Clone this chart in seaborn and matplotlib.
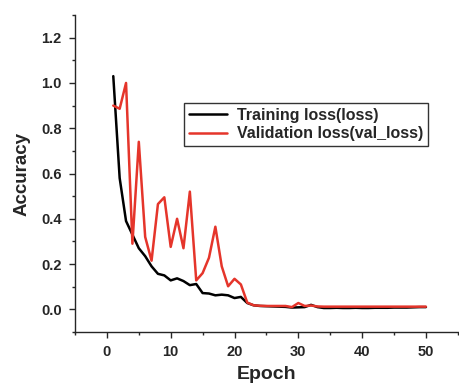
import matplotlib
matplotlib.use("Agg")
import matplotlib.pyplot as plt
import numpy as np
import pandas as pd
import seaborn as sns
from matplotlib.ticker import MultipleLocator

# DATA
epochs = list(range(1, 51))
train_loss = [1.03, 0.58, 0.39, 0.33, 0.27, 0.235, 0.19, 0.157, 0.15, 0.128,
              0.137, 0.125, 0.107, 0.112, 0.072, 0.07, 0.062, 0.065, 0.062, 0.05,
              0.055, 0.028, 0.018, 0.015, 0.014, 0.013, 0.012, 0.011, 0.008, 0.009,
              0.01, 0.02, 0.01, 0.006, 0.006, 0.007, 0.006, 0.006, 0.007, 0.006,
              0.006, 0.007, 0.007, 0.007, 0.008, 0.008, 0.008, 0.009, 0.01, 0.01]
val_loss = [0.90, 0.886, 1.0, 0.29, 0.74, 0.32, 0.215, 0.465, 0.495, 0.276,
            0.40, 0.27, 0.52, 0.128, 0.16, 0.228, 0.365, 0.19, 0.102, 0.135,
            0.11, 0.03, 0.018, 0.016, 0.015, 0.015, 0.015, 0.015, 0.01, 0.028,
            0.015, 0.017, 0.013, 0.012, 0.012, 0.012, 0.012, 0.012, 0.012, 0.012,
            0.012, 0.012, 0.012, 0.012, 0.012, 0.012, 0.012, 0.012, 0.012, 0.012]
series_names = ["Training loss(loss)", "Validation loss(val_loss)"]
series_colors = ["#000000", "#e5352b"]

df = pd.DataFrame({
    "Epoch": epochs * 2,
    "Loss": train_loss + val_loss,
    "Series": [series_names[0]] * len(epochs) + [series_names[1]] * len(epochs),
})

# STYLE
sns.set_style("ticks")
plt.rcParams["font.family"] = ["Liberation Sans", "DejaVu Sans"]
plt.rcParams["font.weight"] = "bold"

fig = plt.figure(figsize=(4.59, 3.88), dpi=100)
ax = fig.add_axes([0.1634, 0.1443, 0.834, 0.817])

sns.lineplot(data=df, x="Epoch", y="Loss", hue="Series",
             palette=dict(zip(series_names, series_colors)),
             linewidth=1.8, ax=ax)

# AXES
ax.set_xlim(-5, 55)
ax.set_ylim(-0.1, 1.3)
ax.xaxis.set_major_locator(MultipleLocator(10))
ax.xaxis.set_minor_locator(MultipleLocator(5))
ax.yaxis.set_major_locator(MultipleLocator(0.2))
ax.yaxis.set_minor_locator(MultipleLocator(0.1))
ax.set_xticks([0, 10, 20, 30, 40, 50])
ax.set_yticks(np.round(np.arange(0, 1.21, 0.2), 1))
ax.set_yticklabels([f"{v:.1f}" for v in np.arange(0, 1.21, 0.2)])
ax.tick_params(which="major", length=4.5, width=1, labelsize=10.5, pad=5)
ax.tick_params(which="minor", length=2.5, width=1)
for lab in ax.get_xticklabels() + ax.get_yticklabels():
    lab.set_fontweight("bold")
ax.spines["top"].set_visible(False)
ax.spines["right"].set_visible(False)
ax.spines["left"].set_linewidth(1)
ax.spines["bottom"].set_linewidth(1)
ax.set_xlabel("Epoch", fontsize=14, fontweight="bold", labelpad=5)
ax.set_ylabel("Accuracy", fontsize=13.5, fontweight="bold", labelpad=8)

# LEGEND
leg = ax.legend(loc="upper left", bbox_to_anchor=(0.285, 0.722), borderaxespad=0,
                fancybox=False, edgecolor="#333333", framealpha=1,
                prop={"weight": "bold", "size": 11.5}, handlelength=2.4,
                borderpad=0.3, labelspacing=0.2, handletextpad=0.6)
leg.get_frame().set_linewidth(1)

fig.savefig("out.png", dpi=100)
